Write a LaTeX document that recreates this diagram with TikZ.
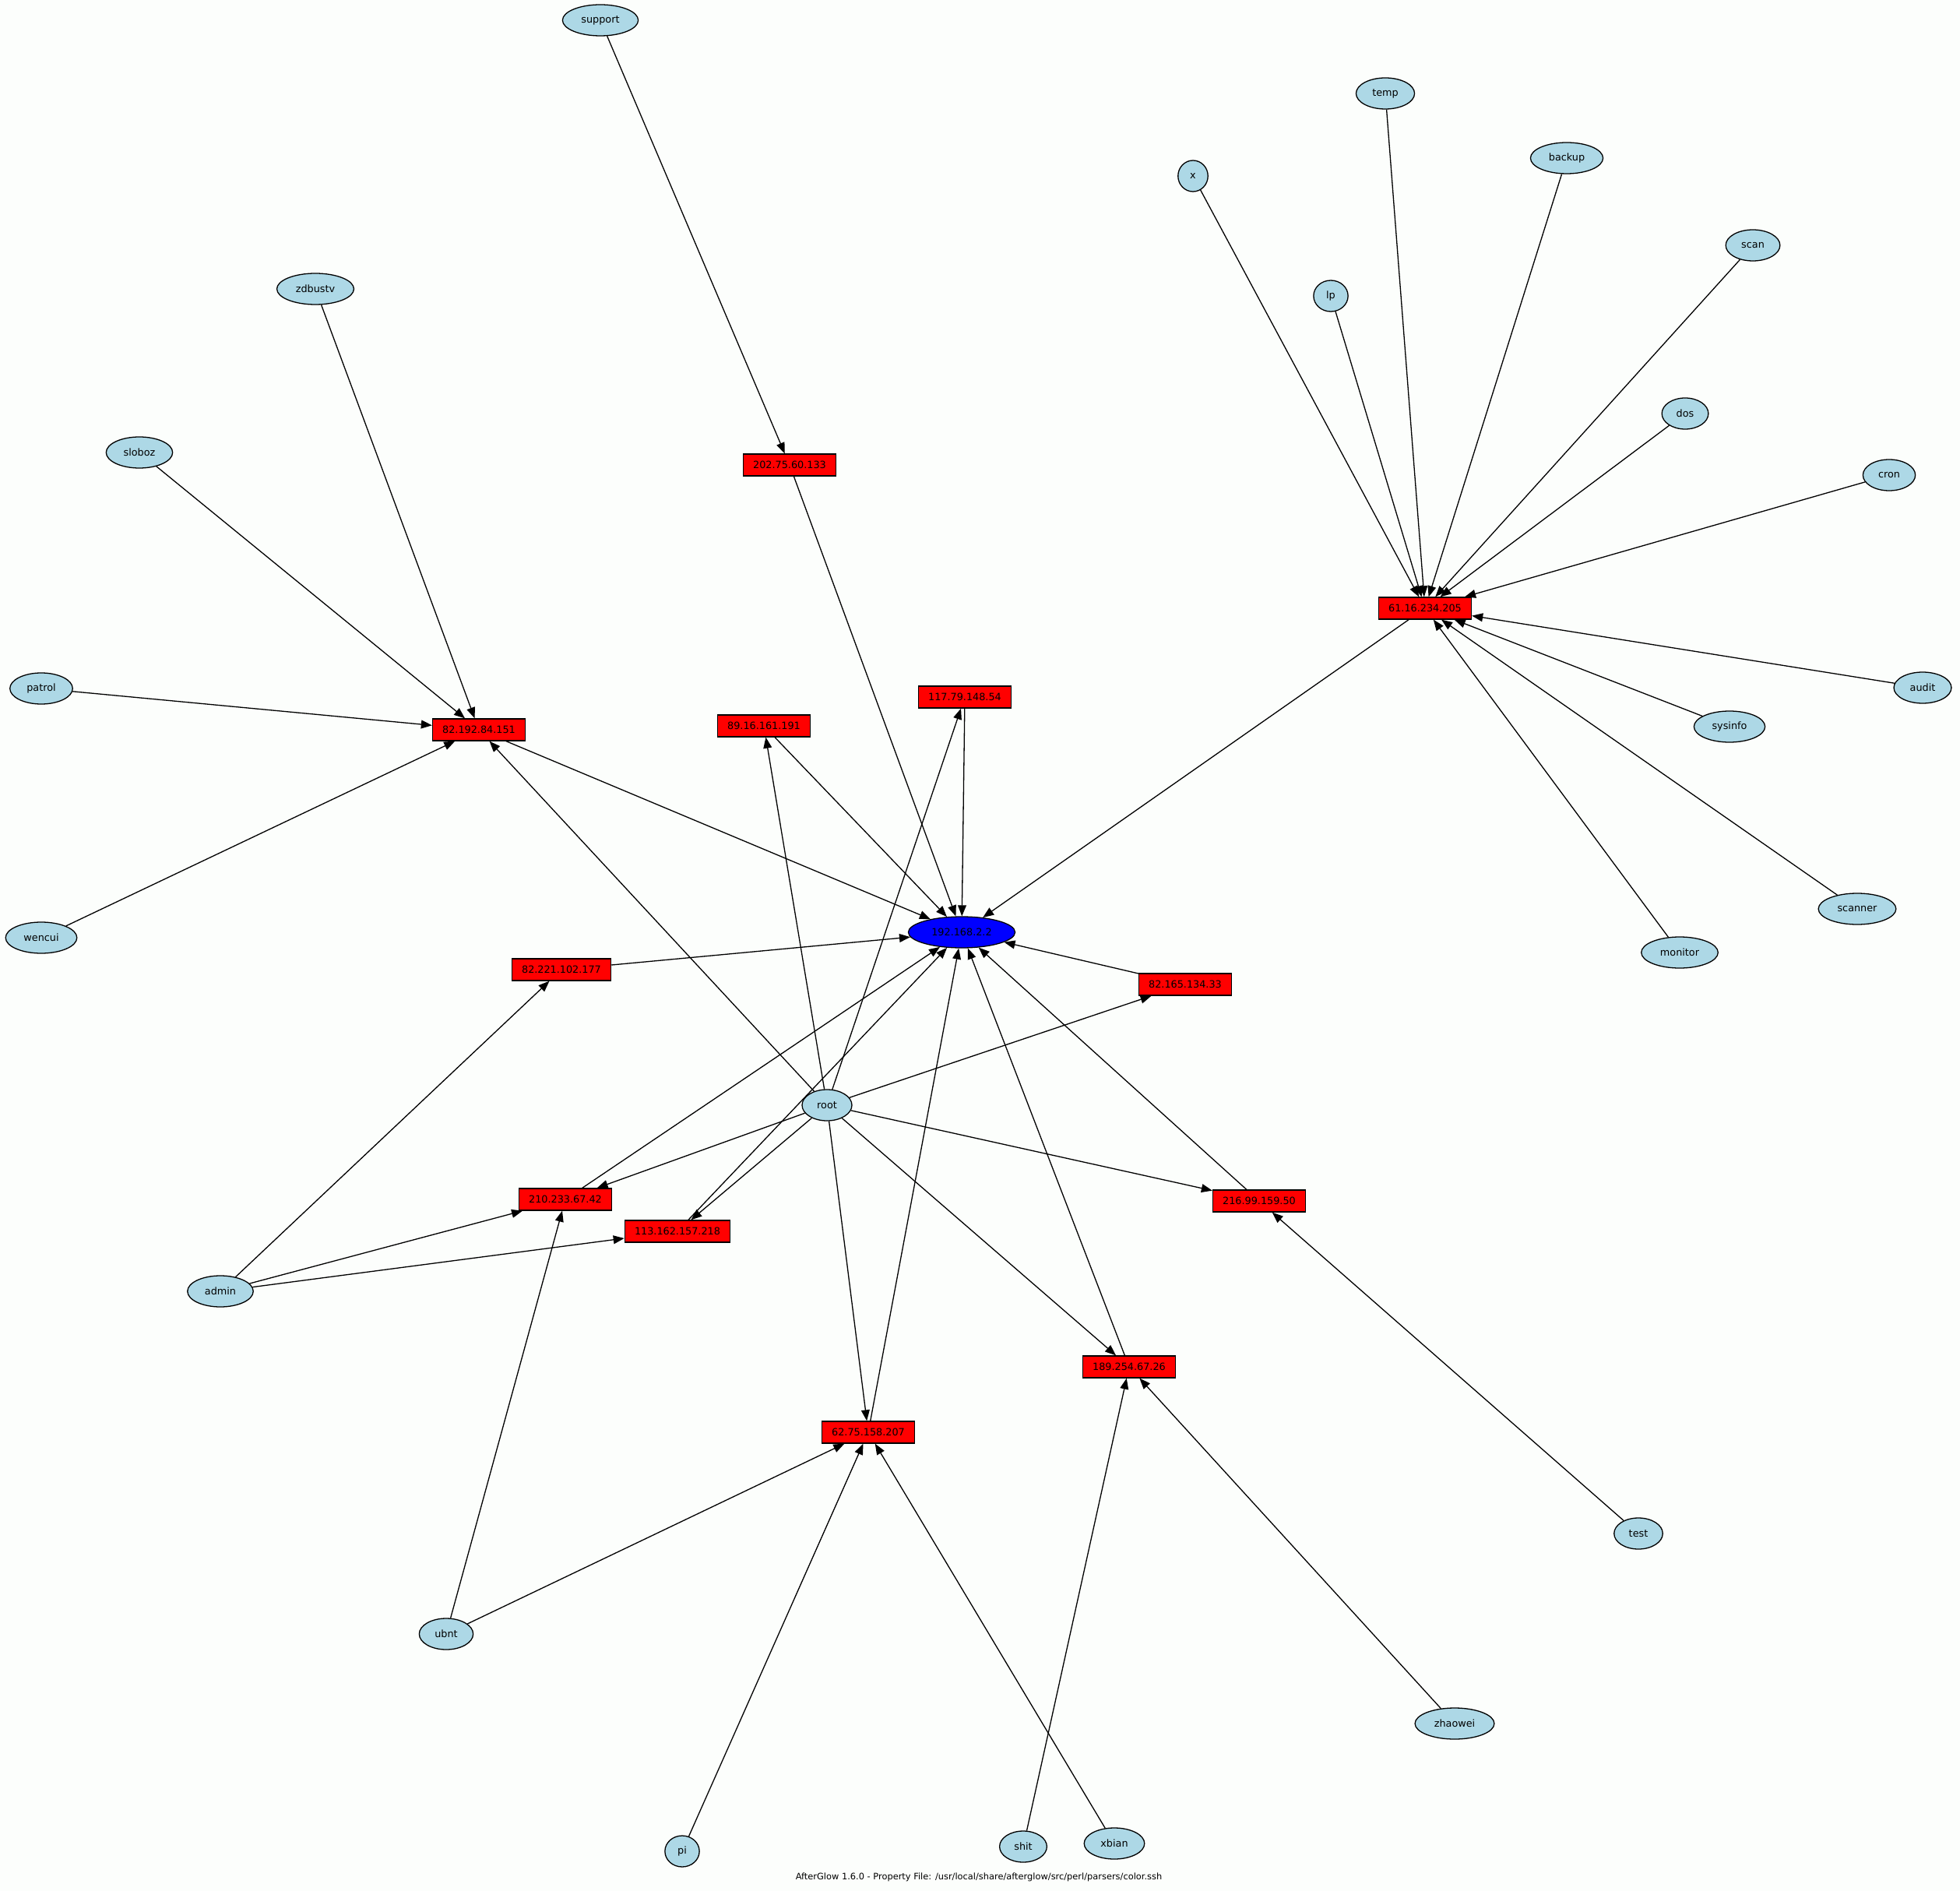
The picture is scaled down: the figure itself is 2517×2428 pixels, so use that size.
\documentclass[tikz,border=0pt]{standalone}
\usepackage{fontspec}
\setmainfont{DejaVu Sans}
\usetikzlibrary{arrows.meta,shapes.geometric}
\definecolor{bgcol}{RGB}{252,254,252}
\definecolor{usercol}{RGB}{173,216,230}
\begin{document}
\begin{tikzpicture}[x=0.5pt,y=-0.5pt,line width=0.65pt,
  every node/.style={font=\fontsize{6.4}{7.7}\selectfont},
  user/.style={ellipse,draw,fill=usercol,inner xsep=4.9pt,inner ysep=1pt,minimum height=20pt},
  target/.style={ellipse,draw,fill=blue,inner xsep=4.9pt,inner ysep=1pt,minimum height=20pt},
  ipbox/.style={rectangle,draw,fill=red,inner xsep=6.35pt,inner ysep=1pt,minimum height=14pt},
  every edge/.append style={-{Triangle[length=7pt,width=5.4pt]}}]
\useasboundingbox (0,0) rectangle (2517,2428);
\fill[bgcol] (0,0) rectangle (2517,2428);
\node [target] (Target) at (1235,1197) {192.168.2.2};
\node [ipbox] (ip61) at (1830,781) {61.16.234.205};
\node [ipbox] (ip202) at (1014,597) {202.75.60.133};
\node [ipbox] (ip117) at (1239,895) {117.79.148.54};
\node [ipbox] (ip89) at (981,932) {89.16.161.191};
\node [ipbox] (ip82a) at (615,937) {82.192.84.151};
\node [ipbox] (ip82b) at (721,1245) {82.221.102.177};
\node [ipbox] (ip82c) at (1522,1264) {82.165.134.33};
\node [ipbox] (ip210) at (726,1540) {210.233.67.42};
\node [ipbox] (ip216) at (1617,1542) {216.99.159.50};
\node [ipbox] (ip113) at (870,1581) {113.162.157.218};
\node [ipbox] (ip189) at (1450,1755) {189.254.67.26};
\node [ipbox] (ip62) at (1115,1839) {62.75.158.207};
\node [user] (support) at (771,26) {support};
\node [user] (temp) at (1779,120) {temp};
\node [user] (backup) at (2012,203) {backup};
\node [user] (x) at (1532,226) {x};
\node [user] (scan) at (2251,315) {scan};
\node [user] (zdbustv) at (405,371) {zdbustv};
\node [user] (lp) at (1709,380) {lp};
\node [user] (dos) at (2164,531) {dos};
\node [user] (sloboz) at (179,581) {sloboz};
\node [user] (cron) at (2426,610) {cron};
\node [user] (audit) at (2469,883) {audit};
\node [user] (patrol) at (53,884) {patrol};
\node [user] (sysinfo) at (2221,933) {sysinfo};
\node [user] (scanner) at (2385,1167) {scanner};
\node [user] (wencui) at (53,1204) {wencui};
\node [user] (monitor) at (2157,1223) {monitor};
\node [user] (root) at (1062,1419) {root};
\node [user] (admin) at (283,1658) {admin};
\node [user] (test) at (2104,1969) {test};
\node [user] (ubnt) at (573,2098) {ubnt};
\node [user] (zhaowei) at (1868,2213) {zhaowei};
\node [user] (shit) at (1314,2371) {shit};
\node [user] (xbian) at (1431,2367) {xbian};
\node [user] (pi) at (876,2377) {pi};
\node [font=\fontsize{5.7}{6.8}\selectfont] (footer) at (1257,2410) {AfterGlow 1.6.0 - Property File: /usr/local/share/afterglow/src/perl/parsers/color.ssh};
\path (x) edge (ip61);
\path (lp) edge (ip61);
\path (temp) edge (ip61);
\path (backup) edge (ip61);
\path (scan) edge (ip61);
\path (dos) edge (ip61);
\path (cron) edge (ip61);
\path (audit) edge (ip61);
\path (sysinfo) edge (ip61);
\path (scanner) edge (ip61);
\path (monitor) edge (ip61);
\path (ip61) edge (Target);
\path (support) edge (ip202);
\path (ip202) edge (Target);
\path (zdbustv) edge (ip82a);
\path (sloboz) edge (ip82a);
\path (patrol) edge (ip82a);
\path (wencui) edge (ip82a);
\path (root) edge (ip82a);
\path (ip82a) edge (Target);
\path (root) edge (ip89);
\path (ip89) edge (Target);
\path (root) edge (ip117);
\path (ip117) edge (Target);
\path (admin) edge (ip82b);
\path (ip82b) edge (Target);
\path (root) edge (ip82c);
\path (ip82c) edge (Target);
\path (root) edge (ip210);
\path (admin) edge (ip210);
\path (ubnt) edge (ip210);
\path (ip210) edge (Target);
\path (root) edge (ip113);
\path (admin) edge (ip113);
\path (ip113) edge (Target);
\path (root) edge (ip216);
\path (test) edge (ip216);
\path (ip216) edge (Target);
\path (root) edge (ip189);
\path (shit) edge (ip189);
\path (zhaowei) edge (ip189);
\path (ip189) edge (Target);
\path (root) edge (ip62);
\path (ubnt) edge (ip62);
\path (pi) edge (ip62);
\path (xbian) edge (ip62);
\path (ip62) edge (Target);
\end{tikzpicture}
\end{document}
